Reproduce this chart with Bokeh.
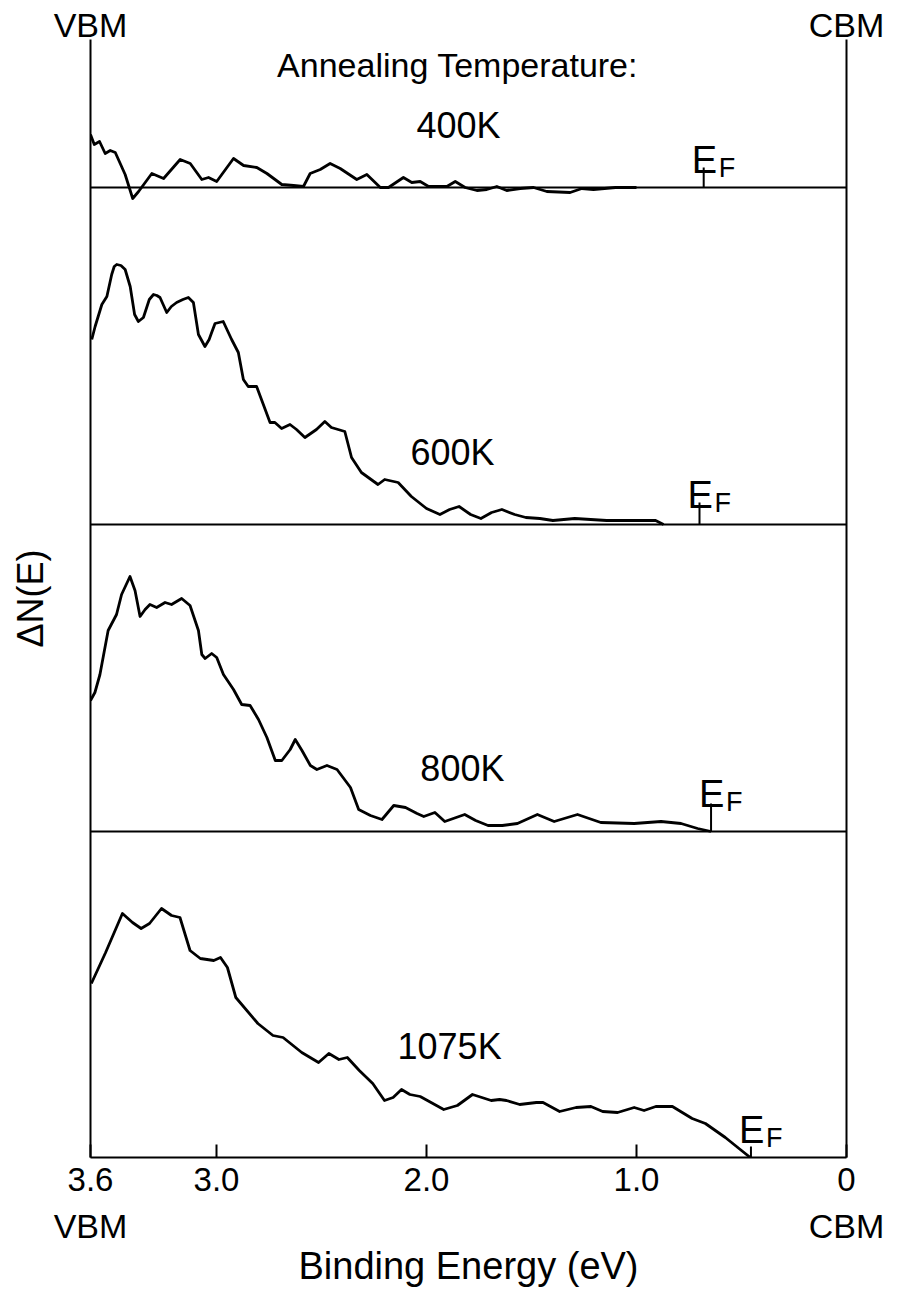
from bokeh.plotting import figure
from bokeh.models import Range1d, Span, Label, LinearAxis, FixedTicker, ColumnDataSource
from bokeh.embed import file_html
from bokeh.resources import INLINE

# ---------------- data ----------------
temps = ["400K", "600K", "800K", "1075K"]

e_400 = [3.60, 3.582, 3.557, 3.530, 3.506, 3.482, 3.435, 3.399, 3.371, 3.308, 3.252, 3.173, 3.125,
         3.070, 3.038, 2.999, 2.919, 2.871, 2.808, 2.760, 2.689, 2.633, 2.586, 2.554, 2.506, 2.459,
         2.411, 2.332, 2.284, 2.220, 2.181, 2.110, 2.070, 2.030, 1.990, 1.903, 1.863, 1.816, 1.760,
         1.713, 1.665, 1.618, 1.554, 1.490, 1.427, 1.316, 1.260, 1.205, 1.10, 1.00]
n_400 = [5.3, 4.3, 4.6, 3.4, 3.7, 3.5, 1.3, -1.1, -0.4, 1.4, 0.9, 2.8, 2.4,
         0.8, 1.0, 0.6, 2.9, 2.2, 2.0, 1.4, 0.3, 0.2, 0.1, 1.4, 1.8, 2.4,
         1.9, 0.8, 1.3, 0.0, 0.0, 1.0, 0.5, 0.6, 0.1, 0.1, 0.6, 0.0, -0.3,
         -0.2, 0.1, -0.3, -0.1, 0.0, -0.4, -0.5, -0.1, -0.2, 0.0, 0.0]

e_600 = [3.594, 3.578, 3.546, 3.522, 3.499, 3.487, 3.475, 3.455, 3.435, 3.411, 3.390, 3.372, 3.348,
         3.320, 3.300, 3.284, 3.269, 3.237, 3.215, 3.190, 3.160, 3.134, 3.110, 3.086, 3.055, 3.035,
         3.023, 3.007, 2.968, 2.928, 2.896, 2.872, 2.849, 2.809, 2.745, 2.722, 2.690, 2.650, 2.619,
         2.579, 2.524, 2.484, 2.453, 2.389, 2.357, 2.310, 2.231, 2.199, 2.135, 2.072, 2.00, 1.936,
         1.89, 1.845, 1.79, 1.741, 1.69, 1.641, 1.58, 1.527, 1.46, 1.398, 1.294, 1.142, 0.909, 0.871]
n_600 = [18.5, 19.8, 22.0, 22.8, 25.0, 25.8, 26.0, 25.9, 25.5, 23.8, 21.0, 20.3, 20.7,
         22.5, 23.0, 22.9, 22.7, 21.2, 21.8, 22.2, 22.5, 22.7, 22.2, 19.0, 17.8, 18.5,
         19.2, 20.1, 20.3, 18.5, 17.2, 14.5, 13.8, 13.8, 10.2, 10.2, 9.6, 10.0, 9.5,
         8.7, 9.5, 10.3, 9.7, 9.3, 6.7, 5.2, 4.0, 4.5, 4.2, 2.8, 1.6, 1.0,
         1.5, 1.8, 1.0, 0.6, 1.2, 1.5, 1.0, 0.7, 0.6, 0.4, 0.6, 0.4, 0.4, 0.0]

e_800 = [3.600, 3.579, 3.555, 3.516, 3.476, 3.452, 3.412, 3.388, 3.364, 3.340, 3.317, 3.285, 3.245,
         3.214, 3.166, 3.126, 3.086, 3.070, 3.054, 3.023, 2.999, 2.967, 2.919, 2.880, 2.840, 2.800,
         2.760, 2.720, 2.689, 2.649, 2.625, 2.593, 2.553, 2.522, 2.474, 2.426, 2.362, 2.323, 2.267,
         2.212, 2.156, 2.100, 2.045, 2.013, 1.960, 1.913, 1.818, 1.766, 1.707, 1.639, 1.567, 1.472,
         1.392, 1.281, 1.170, 1.011, 0.883, 0.788, 0.709, 0.645]
n_800 = [13.1, 13.9, 15.7, 20.1, 21.7, 23.7, 25.5, 24.1, 21.5, 22.2, 22.7, 22.4, 22.9,
         22.7, 23.3, 22.6, 20.1, 17.7, 17.3, 17.8, 17.4, 15.7, 14.2, 12.7, 12.6, 11.2,
         9.4, 7.1, 7.1, 8.2, 9.2, 8.1, 6.6, 6.2, 6.6, 6.2, 4.4, 2.2, 1.6,
         1.2, 2.6, 2.4, 1.8, 1.5, 1.9, 1.0, 1.7, 1.1, 0.6, 0.6, 0.8, 1.7,
         1.0, 1.7, 0.9, 0.8, 1.0, 0.8, 0.3, 0.0]

e_1075 = [3.596, 3.528, 3.448, 3.400, 3.359, 3.319, 3.262, 3.214, 3.174, 3.126, 3.077, 3.013, 2.981,
          2.948, 2.908, 2.803, 2.731, 2.683, 2.594, 2.514, 2.465, 2.417, 2.377, 2.320, 2.256, 2.200,
          2.159, 2.119, 2.079, 2.030, 1.918, 1.853, 1.781, 1.692, 1.652, 1.619, 1.556, 1.477, 1.445,
          1.366, 1.288, 1.217, 1.161, 1.090, 1.011, 0.964, 0.908, 0.829, 0.735, 0.672, 0.577, 0.506,
          0.458]
n_1075 = [17.4, 20.5, 24.4, 23.5, 22.9, 23.4, 24.9, 24.2, 24.0, 20.7, 19.9, 19.7, 20.0,
          19.0, 16.0, 13.4, 12.2, 12.0, 10.5, 9.5, 10.4, 9.8, 10.0, 8.7, 7.4, 5.7,
          6.0, 6.8, 6.3, 6.1, 4.8, 5.2, 6.3, 5.7, 5.8, 5.7, 5.3, 5.5, 5.5,
          4.6, 5.0, 5.1, 4.6, 4.5, 5.0, 4.7, 5.1, 5.1, 3.9, 3.4, 2.0, 0.8,
          0.0]

fermi_energy = [0.68, 0.70, 0.645, 0.455]

tick_values = [3.6, 3.0, 2.0, 1.0, 0.0]
tick_labels = ["3.6", "3.0", "2.0", "1.0", "0"]
edge_values = [3.6, 0.0]
edge_labels = ["VBM", "CBM"]

# ---------------- layout / style ----------------
FONT = "Liberation Sans"
panel_base = [97.0, 63.3, 32.6, 0.0]          # stacking offsets of the four spectra
ef_tick_len = [2.0, 2.2, 2.8, 1.1]
ef_e_lift = [0.8, 0.8, 1.0, 1.7]
ef_f_lift = [0.0, 0.0, 0.2, 0.9]
temp_label_pos = [(1.848, 103.2), (1.876, 70.5), (1.829, 38.9), (1.890, 11.1)]
title_pos = (1.852, 109.3)

energies = [e_400, e_600, e_800, e_1075]
spectra = [n_400, n_600, n_800, n_1075]

p = figure(width=900, height=1290, x_range=Range1d(3.6, 0.0), y_range=Range1d(0, 111.8),
           output_backend="svg", toolbar_location=None,
           min_border_left=90, min_border_right=54, min_border_top=39, min_border_bottom=133)
p.grid.visible = False
p.outline_line_color = None
p.background_fill_color = "white"
p.border_fill_color = "white"

# bottom axis with energy ticks
xa = p.xaxis[0]
xa.ticker = FixedTicker(ticks=tick_values)
xa.major_label_overrides = dict(zip(tick_values, tick_labels))
xa.major_tick_in = 13
xa.major_tick_out = 0
xa.minor_tick_line_color = None
xa.axis_line_width = 2
xa.major_tick_line_width = 2
xa.major_label_standoff = 10
xa.major_label_text_font = FONT
xa.major_label_text_font_size = "33px"
xa.major_label_text_color = "black"

# second bottom row: VBM / CBM and the axis title
xb = LinearAxis(ticker=FixedTicker(ticks=edge_values),
                major_label_overrides=dict(zip(edge_values, edge_labels)),
                axis_line_color=None, major_tick_line_color=None, minor_tick_line_color=None,
                major_tick_in=0, major_tick_out=0, major_label_standoff=13,
                major_label_text_font=FONT, major_label_text_font_size="34px",
                major_label_text_color="black",
                axis_label="Binding Energy (eV)", axis_label_text_font=FONT,
                axis_label_text_font_size="38px", axis_label_text_font_style="normal",
                axis_label_text_color="black", axis_label_standoff=-3)
p.add_layout(xb, "below")

# top row: VBM / CBM
xt = LinearAxis(ticker=FixedTicker(ticks=edge_values),
                major_label_overrides=dict(zip(edge_values, edge_labels)),
                axis_line_color=None, major_tick_line_color=None, minor_tick_line_color=None,
                major_tick_in=0, major_tick_out=0, major_label_standoff=-4,
                major_label_text_font=FONT, major_label_text_font_size="34px",
                major_label_text_color="black")
p.add_layout(xt, "above")

# left axis (frame line + label)
ya = p.yaxis[0]
ya.ticker = FixedTicker(ticks=[])
ya.major_tick_line_color = None
ya.minor_tick_line_color = None
ya.axis_line_width = 2
ya.axis_label = "ΔN(E)"
ya.axis_label_text_font = FONT
ya.axis_label_text_font_size = "36px"
ya.axis_label_text_font_style = "normal"
ya.axis_label_text_color = "black"
ya.axis_label_standoff = 40

# right frame line
ra = LinearAxis(ticker=FixedTicker(ticks=[]), axis_line_width=2,
                major_tick_line_color=None, minor_tick_line_color=None)
p.add_layout(ra, "right")

for i in range(4):
    base = panel_base[i]
    src = ColumnDataSource(dict(x=energies[i], y=[base + v for v in spectra[i]]))
    p.line("x", "y", source=src, line_color="black", line_width=2.8, line_join="round")
    if base > 0:
        p.add_layout(Span(location=base, dimension="width", line_color="black", line_width=2))
    ef = fermi_energy[i]
    top = base + ef_tick_len[i]
    p.segment(x0=[ef], y0=[base], x1=[ef], y1=[top], line_color="black", line_width=2)
    p.add_layout(Label(x=ef, y=top + ef_e_lift[i], x_offset=-12, text="E",
                       text_font=FONT, text_font_size="38px", text_align="left",
                       text_baseline="alphabetic", text_color="black"))
    p.add_layout(Label(x=ef, y=top + ef_f_lift[i], x_offset=15, text="F",
                       text_font=FONT, text_font_size="27px", text_align="left",
                       text_baseline="alphabetic", text_color="black"))
    tx, ty = temp_label_pos[i]
    p.add_layout(Label(x=tx, y=ty, text=temps[i], text_font=FONT, text_font_size="36px",
                       text_align="center", text_baseline="middle", text_color="black"))

p.add_layout(Label(x=title_pos[0], y=title_pos[1], text="Annealing Temperature:", text_font=FONT,
                   text_font_size="34px", text_align="center", text_baseline="middle",
                   text_color="black"))

open("out.html", "w").write(file_html(p, INLINE))
